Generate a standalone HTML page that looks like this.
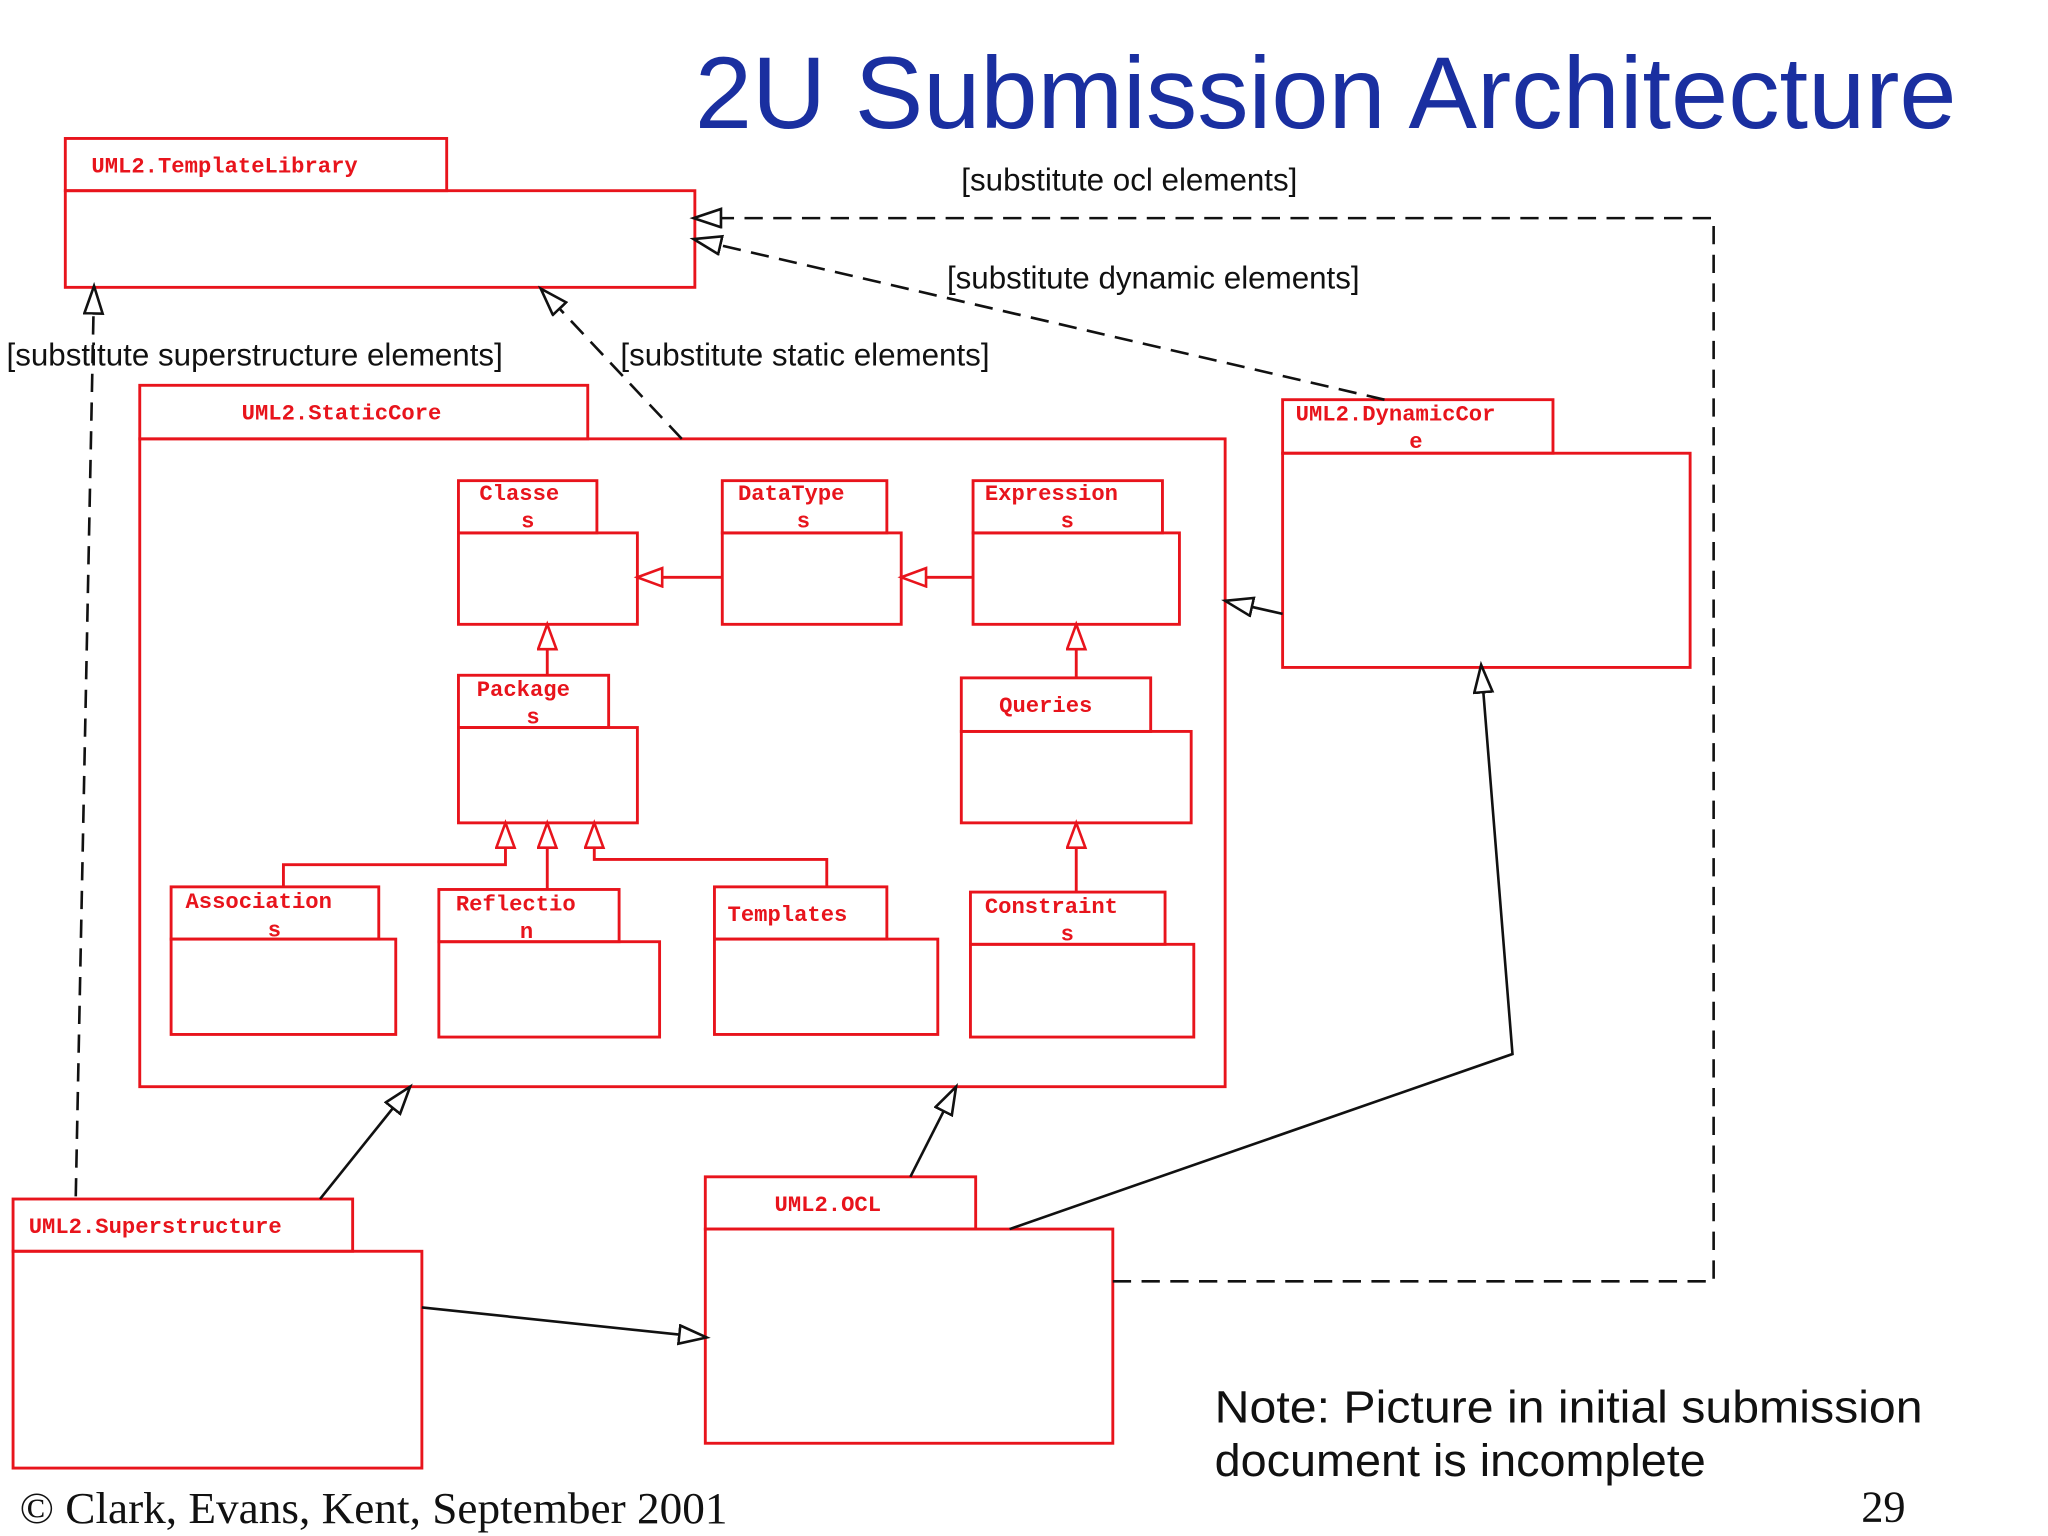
<!DOCTYPE html>
<html><head><meta charset="utf-8"><style>
html,body{margin:0;padding:0;background:#fff;}
svg{display:block;}
.p{fill:none;stroke:#e8141c;stroke-width:2.2;}
.t{font-family:"Liberation Mono",monospace;font-weight:bold;font-size:17px;fill:#e8141c;}
.l{font-family:"Liberation Sans",sans-serif;font-size:24px;fill:#111;}
.k{fill:none;stroke:#111;stroke-width:2;}
.d{stroke-dasharray:14 8;}
.r{fill:none;stroke:#e8141c;stroke-width:2.2;}
</style></head><body>
<svg width="2048" height="1536" viewBox="0 0 1568 1176" preserveAspectRatio="none" xmlns="http://www.w3.org/2000/svg">
<defs>
<marker id="ab" markerUnits="userSpaceOnUse" markerWidth="30" markerHeight="30" refX="22" refY="8" orient="auto"><path d="M1,1 L22,8 L1,15 Z" fill="#fff" stroke="#111" stroke-width="2"/></marker>
<marker id="ar" markerUnits="userSpaceOnUse" markerWidth="30" markerHeight="30" refX="20" refY="8" orient="auto"><path d="M1,1 L20,8 L1,15 Z" fill="#fff" stroke="#e8141c" stroke-width="2"/></marker>
</defs>
<text x="532" y="98" font-family="Liberation Sans,sans-serif" font-size="78" fill="#1a2fa0" textLength="966" lengthAdjust="spacingAndGlyphs">2U Submission Architecture</text>

<g class="p">
<rect x="50" y="106" width="292" height="40"/><rect x="50" y="146" width="482" height="74"/>
<rect x="107" y="295" width="343" height="41"/><rect x="107" y="336" width="831" height="496"/>
<rect x="982" y="306" width="207" height="41"/><rect x="982" y="347" width="312" height="164"/>
<rect x="10" y="918" width="260" height="40"/><rect x="10" y="958" width="313" height="166"/>
<rect x="540" y="901" width="207" height="40"/><rect x="540" y="941" width="312" height="164"/>
<rect x="351" y="368" width="106" height="40"/><rect x="351" y="408" width="137" height="70"/>
<rect x="553" y="368" width="126" height="40"/><rect x="553" y="408" width="137" height="70"/>
<rect x="745" y="368" width="145" height="40"/><rect x="745" y="408" width="158" height="70"/>
<rect x="351" y="517" width="115" height="40"/><rect x="351" y="557" width="137" height="73"/>
<rect x="736" y="519" width="145" height="41"/><rect x="736" y="560" width="176" height="70"/>
<rect x="131" y="679" width="159" height="40"/><rect x="131" y="719" width="172" height="73"/>
<rect x="336" y="681" width="138" height="40"/><rect x="336" y="721" width="169" height="73"/>
<rect x="547" y="679" width="132" height="40"/><rect x="547" y="719" width="171" height="73"/>
<rect x="743" y="683" width="149" height="40"/><rect x="743" y="723" width="171" height="71"/>
</g>
<g class="t">
<text x="70" y="132">UML2.TemplateLibrary</text>
<text x="185" y="321">UML2.StaticCore</text>
<text x="992" y="322">UML2.DynamicCor</text><text x="1079" y="343">e</text>
<text x="22" y="944">UML2.Superstructure</text>
<text x="593" y="927">UML2.OCL</text>
<text x="367" y="383">Classe</text><text x="399" y="404">s</text>
<text x="565" y="383">DataType</text><text x="610" y="404">s</text>
<text x="754" y="383">Expression</text><text x="812" y="404">s</text>
<text x="365" y="533">Package</text><text x="403" y="554">s</text>
<text x="765" y="545">Queries</text>
<text x="142" y="695">Association</text><text x="205" y="717">s</text>
<text x="349" y="697">Reflectio</text><text x="398" y="718">n</text>
<text x="557" y="705">Templates</text>
<text x="754" y="699">Constraint</text><text x="812" y="720">s</text>
</g>

<g class="r">
<line x1="553" y1="442" x2="488" y2="442" marker-end="url(#ar)"/>
<line x1="745" y1="442" x2="690" y2="442" marker-end="url(#ar)"/>
<line x1="419" y1="517" x2="419" y2="478" marker-end="url(#ar)"/>
<line x1="824" y1="519" x2="824" y2="478" marker-end="url(#ar)"/>
<line x1="824" y1="683" x2="824" y2="630" marker-end="url(#ar)"/>
<polyline points="217,679 217,662 387,662 387,630" marker-end="url(#ar)"/>
<line x1="419" y1="681" x2="419" y2="630" marker-end="url(#ar)"/>
<polyline points="633,679 633,658 455,658 455,630" marker-end="url(#ar)"/>
</g>

<g class="k">
<line class="d" x1="58" y1="916" x2="72" y2="219" marker-end="url(#ab)"/>
<line class="d" x1="522" y1="336" x2="414" y2="221" marker-end="url(#ab)"/>
<line class="d" x1="1060" y1="306" x2="531" y2="183" marker-end="url(#ab)"/>
<polyline class="d" points="852,981 1312,981 1312,167 531,167" marker-end="url(#ab)"/>
<line x1="982" y1="470" x2="938" y2="460" marker-end="url(#ab)"/>
<line x1="245" y1="918" x2="314" y2="832" marker-end="url(#ab)"/>
<line x1="697" y1="901" x2="732" y2="832" marker-end="url(#ab)"/>
<polyline points="773,941 1158,807 1134,509" marker-end="url(#ab)"/>
<line x1="323" y1="1001" x2="541" y2="1024" marker-end="url(#ab)"/>
</g>

<g class="l">
<text x="736" y="146">[substitute ocl elements]</text>
<text x="725" y="221">[substitute dynamic elements]</text>
<text x="5" y="280">[substitute superstructure elements]</text>
<text x="475" y="280">[substitute static elements]</text>
</g>
<text x="930" y="1089" font-family="Liberation Sans,sans-serif" font-size="35" fill="#111" textLength="542" lengthAdjust="spacingAndGlyphs">Note: Picture in initial submission</text>
<text x="930" y="1130" font-family="Liberation Sans,sans-serif" font-size="35" fill="#111" textLength="376" lengthAdjust="spacingAndGlyphs">document is incomplete</text>
<text x="15" y="1166" font-family="Liberation Serif,serif" font-size="34" fill="#111" textLength="542" lengthAdjust="spacingAndGlyphs">© Clark, Evans, Kent, September 2001</text>
<text x="1425" y="1165" font-family="Liberation Serif,serif" font-size="34" fill="#111">29</text>
</svg>
</body></html>
